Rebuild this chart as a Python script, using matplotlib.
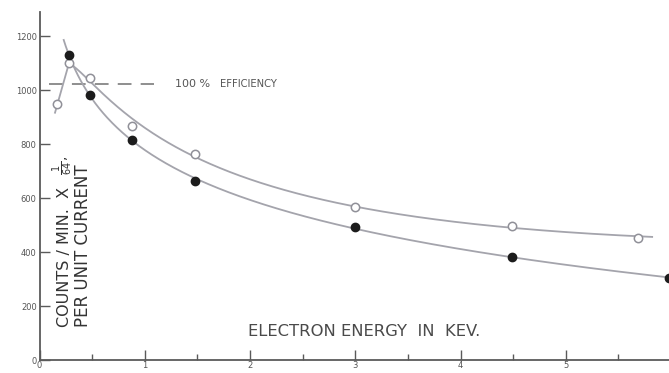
import numpy as np
import matplotlib
matplotlib.use("Agg")
import matplotlib.pyplot as plt

# ---- data ----
open_x = [0.17, 0.28, 0.48, 0.88, 1.48, 3.0, 4.49, 5.69]
open_y = [948, 1100, 1046, 867, 765, 566, 498, 453]
filled_x = [0.28, 0.48, 0.88, 1.48, 3.0, 4.49, 5.98]
filled_y = [1130, 981, 816, 665, 493, 380, 305]
efficiency_level = 1022
x_ticks = [0, 1, 2, 3, 4, 5]
y_ticks = [0, 200, 400, 600, 800, 1000, 1200]


def smooth_fit(x, y, x0, x1, weights=None, deg=3, num=600):
    """Smooth hand-drawn-like curve: weighted least-squares polynomial in log(x)."""
    lx = np.log(np.asarray(x, float))
    w = np.ones(len(lx)) if weights is None else np.asarray(weights, float)
    coef = np.polyfit(lx, np.asarray(y, float), deg, w=w)
    xs = np.linspace(x0, x1, num)
    return xs, np.polyval(coef, np.log(xs))


fig = plt.figure(figsize=(6.69, 3.73), dpi=100)
ax = fig.add_axes([39.5 / 669, 13 / 373, 629.5 / 669, 348 / 373])
ax.set_xlim(0, 5.98)
ax.set_ylim(0, 1290)

line_col = "#a4a4ac"
axis_col = "#5a5a5a"

# open-circle curve: straight rising stroke to the peak, then a smooth decay
slope = (open_y[1] - open_y[0]) / (open_x[1] - open_x[0])
x_start = 0.145
ax.plot([x_start, open_x[1]], [open_y[0] + slope * (x_start - open_x[0]), open_y[1]],
        color=line_col, lw=1.3, zorder=2, solid_capstyle='butt')
xs_o, ys_o = smooth_fit(open_x[1:], open_y[1:], open_x[1], 5.82,
                        weights=[8, 1.3, 1, 1, 1, 1, 1], deg=3)
ax.plot(xs_o, ys_o, color=line_col, lw=1.3, zorder=2)

# filled-circle curve
xs_f, ys_f = smooth_fit(filled_x, filled_y, 0.23, 5.98, weights=[3, 1, 1, 1, 1, 1, 1])
ax.plot(xs_f, ys_f, color=line_col, lw=1.3, zorder=2)

ax.plot(open_x, open_y, 'o', ms=6, mfc='white', mec="#909098", mew=1.1, zorder=3)
ax.plot(filled_x, filled_y, 'o', ms=6, mfc="#1c1c1c", mec="#1c1c1c", zorder=3)

ax.plot([0.09, 1.09], [efficiency_level, efficiency_level], color="#707070",
        lw=1.1, dashes=(9, 6), zorder=1)
ax.text(1.287, efficiency_level, "100 %", fontsize=8, color="#555555",
        ha='left', va='center')
ax.text(1.714, efficiency_level, "EFFICIENCY", fontsize=7.2, color="#555555",
        ha='left', va='center')

ax.text(1.98, 104, "ELECTRON ENERGY  IN  KEV.", fontsize=11.8, color="#4a4a4a",
        ha='left', va='center')

# rotated y label (two lines)
fig.text(64 / 669, 1 - 327 / 373, "COUNTS / MIN.  X", rotation=90,
         fontsize=11.5, color="#333333", ha='center', va='bottom')
fig.text(63 / 669, 1 - 156 / 373, r"$\frac{1}{64}$,", rotation=90,
         fontsize=10, color="#333333", ha='center', va='top')
fig.text(83 / 669, 1 - 327 / 373, "PER UNIT CURRENT", rotation=90,
         fontsize=12, color="#333333", ha='center', va='bottom')

for s in ['top', 'right']:
    ax.spines[s].set_visible(False)
for s in ['left', 'bottom']:
    ax.spines[s].set_color(axis_col)
    ax.spines[s].set_linewidth(1.3)

ax.set_xticks(x_ticks)
ax.set_xticks(np.arange(0.5, 6, 1.0), minor=True)
ax.set_yticks(y_ticks)
ax.tick_params(axis='x', which='major', direction='in', length=7, width=1,
               color=axis_col, labelsize=6, labelcolor="#555555", pad=1)
ax.tick_params(axis='x', which='minor', direction='in', length=4, width=1,
               color=axis_col)
ax.tick_params(axis='y', direction='in', length=7, width=1, color=axis_col,
               labelsize=6, labelcolor="#555555", pad=2)

fig.savefig("out.png", dpi=100)
